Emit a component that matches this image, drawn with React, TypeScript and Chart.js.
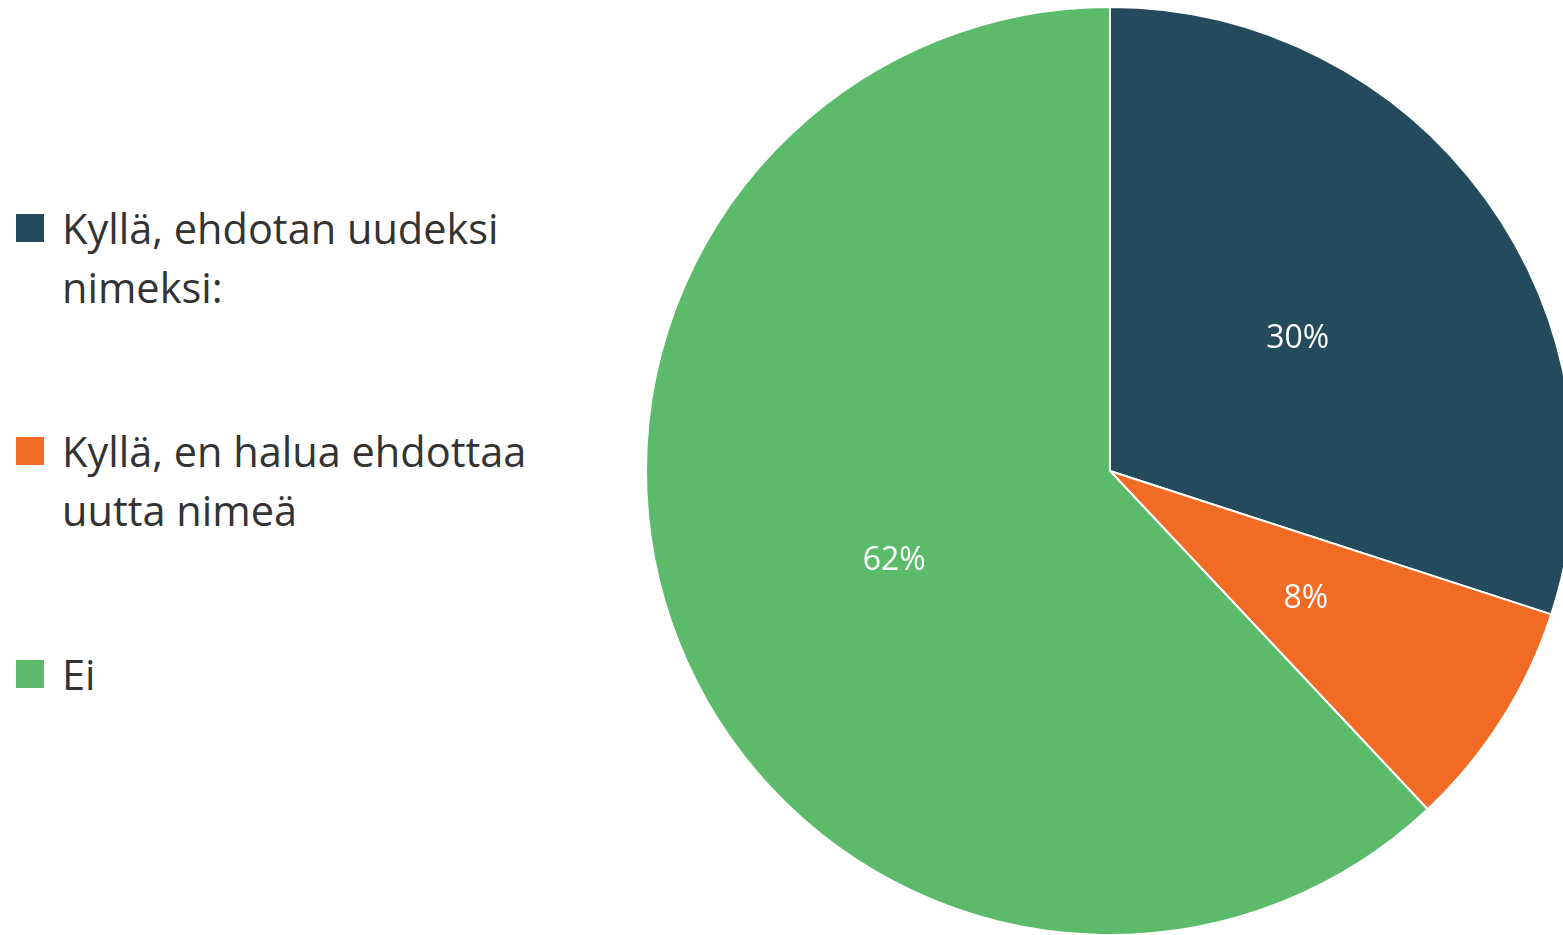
import React, { useEffect, useRef } from "react";
import { Chart, registerables } from "chart.js";

Chart.register(...registerables);

const labels: string[][] = [
  ["Kyllä, ehdotan uudeksi", "nimeksi:"],
  ["Kyllä, en halua ehdottaa", "uutta nimeä"],
  ["Ei"],
];
const values: number[] = [30, 8, 62];
const colors: string[] = ["#234B5B", "#F26B24", "#5BBB6B"];
const legendTops: number[] = [199, 422, 645];

const FONT = "'Open Sans', sans-serif";

const labelPlugin = {
  id: "pctLabels",
  afterDatasetsDraw(chart: any) {
    const ctx = chart.ctx;
    const meta = chart.getDatasetMeta(0);
    const data = chart.data.datasets[0].data as number[];
    const total = data.reduce((a, b) => a + b, 0);
    ctx.save();
    ctx.fillStyle = "#ffffff";
    ctx.font = `32px ${FONT}`;
    ctx.textAlign = "center";
    ctx.textBaseline = "middle";
    meta.data.forEach((arc: any, i: number) => {
      const p = arc.tooltipPosition();
      ctx.fillText(`${Math.round((data[i] / total) * 100)}%`, p.x, p.y + 4);
    });
    ctx.restore();
  },
};

export default function App() {
  const ref = useRef<HTMLCanvasElement>(null);
  useEffect(() => {
    document.body.style.margin = "0";
    document.body.style.overflow = "hidden";
    const chart = new Chart(ref.current!, {
      type: "pie",
      data: {
        labels: labels.map((l) => l.join(" ")),
        datasets: [
          {
            data: values,
            backgroundColor: colors,
            borderColor: "#ffffff",
            borderWidth: 2,
          },
        ],
      },
      options: {
        animation: false,
        responsive: false,
        maintainAspectRatio: false,
        layout: { padding: 0 },
        plugins: { legend: { display: false }, tooltip: { enabled: false } },
      },
      plugins: [labelPlugin],
    });
    return () => chart.destroy();
  }, []);

  return (
    <div
      style={{
        position: "fixed",
        left: 0,
        top: 0,
        width: 1563,
        height: 935,
        overflow: "hidden",
        background: "#ffffff",
      }}
    >
      <div style={{ position: "absolute", left: 645, top: 6, width: 930, height: 930 }}>
        <canvas ref={ref} width={930} height={930} style={{ width: 930, height: 930 }} />
      </div>
      {labels.map((lines, i) => (
        <div key={i} style={{ position: "absolute", left: 16, top: legendTops[i] }}>
          <div
            style={{
              position: "absolute",
              left: 0,
              top: 15,
              width: 28,
              height: 28,
              background: colors[i],
            }}
          />
          <div
            style={{
              position: "absolute",
              left: 46,
              top: 0,
              whiteSpace: "nowrap",
              fontFamily: FONT,
              fontSize: 41.5,
              lineHeight: "59px",
              color: "#333333",
            }}
          >
            {lines.map((l, j) => (
              <div key={j}>{l}</div>
            ))}
          </div>
        </div>
      ))}
    </div>
  );
}
